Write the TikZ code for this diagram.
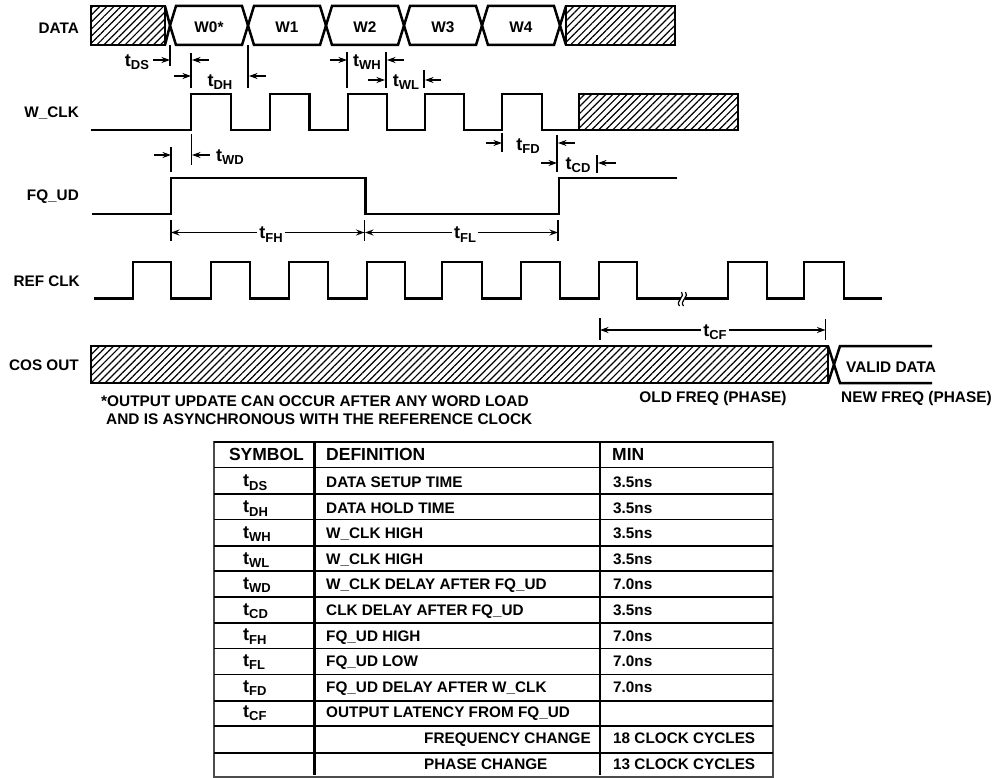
\documentclass[tikz,border=0pt]{standalone}
\usepackage{fontspec}
\setmainfont{Liberation Sans}[BoldFont={Liberation Sans Bold}]
\usetikzlibrary{arrows.meta,patterns.meta}
\newcommand{\tname}[1]{t\raisebox{-3.5pt}{\fontsize{13}{13}\selectfont #1}}
\tikzset{
  wave/.style={line width=2.5pt,line join=miter},
  hatch/.style={wave,pattern={Lines[angle=45,distance=5pt,line width=1.2pt]}},
  tick/.style={line width=1.2pt},
  dim/.style={line width=1.2pt,->},
  rule/.style={line width=1.4pt},
  capline/.style={text height=11pt,text depth=0pt,inner sep=0pt},
  sig/.style={capline,font=\fontsize{15.3}{15.3}\selectfont\bfseries,anchor=east},
  txt/.style={capline,font=\fontsize{15.4}{17}\selectfont\bfseries},
  tim/.style={font=\fontsize{18}{18}\selectfont\bfseries,inner sep=2pt},
  cell/.style={capline,font=\fontsize{15.3}{15.3}\selectfont\bfseries,anchor=west},
  head/.style={capline,font=\fontsize{17.5}{17.5}\selectfont\bfseries}
}
\begin{document}
\begin{tikzpicture}[x=1pt,y=-1pt,>={Stealth[length=8.5pt,width=6pt]}]
\useasboundingbox (0,0) rectangle (995,778);
% signal names
\node[sig] (data) at (79,28.3) {DATA};
\node[sig] (wclk) at (79,112.3) {W\_CLK};
\node[sig] (fqud) at (79,195) {FQ\_UD};
\node[sig] (refclk) at (80,281) {REF CLK};
\node[sig] (cosout) at (79,365) {COS OUT};
% DATA
\draw[hatch] (91,6) rectangle (165,45);
\draw[hatch] (566,6) rectangle (675,45);
\draw[wave] (165,6) -- (170,25.5) -- (165,45);
\draw[wave] (566,6) -- (560,25.5) -- (566,45);
\foreach \a/\n/\t in {170/0/W0*,248/1/W1,326/2/W2,404/3/W3,482/4/W4} {
  \draw[wave] (\a,25.5) -- (\a+6,6) -- (\a+72,6) -- (\a+78,25.5) -- (\a+72,45) -- (\a+6,45) -- cycle;
  \node[txt] (w\n) at (\a+39,26.7) {\t};
}
% W_CLK
\draw[wave] (91,130) -| (191,94) -| (231,130) -| (270,94) -| (309.5,130) -| (348,94) -| (387,130)
  -| (425,94) -| (464,130) -| (502,94) -| (542,130) -- (579,130);
\draw[hatch] (579,94) rectangle (738,130);
% FQ_UD
\draw[wave] (92,214) -| (171,178) -| (365.5,214) -| (559,178) -- (677,178);
% REF CLK
\draw[wave] (94,298.5) -| (133,262) -| (171,298.5) -| (211,262) -| (250,298.5) -| (289,262) -| (328,298.5)
  -| (367,262) -| (405,298.5) -| (442,262) -| (482,298.5) -| (521,262) -| (560,298.5) -| (599,262)
  -| (637,298.5) -| (728,262) -| (767,298.5) -| (804,262) -| (844,298.5) -- (882,298.5);
\fill[white] (680.5,295) rectangle (684.5,302);
\draw[tick] (681.5,292) .. controls (686,296) and (675,301) .. (679.5,306);
\draw[tick] (685.5,292) .. controls (690,296) and (679,301) .. (683.5,306);
% COS OUT
\draw[hatch] (91,346) rectangle (828,383);
\draw[wave] (828,346) -- (834,364.5) -- (828,383);
\draw[wave] (932,346) -- (840,346) -- (834,364.5) -- (840,383) -- (932,383);
\node[txt,anchor=west] (valid) at (846,366.7) {VALID DATA};
\node[txt] (oldf) at (713,396.7) {OLD FREQ (PHASE)};
\node[txt] (newf) at (916.5,396.7) {NEW FREQ (PHASE)};
\node[txt,anchor=west] (note1) at (101,401) {*OUTPUT UPDATE CAN OCCUR AFTER ANY WORD LOAD};
\node[txt,anchor=west] (note2) at (106,419) {AND IS ASYNCHRONOUS WITH THE REFERENCE CLOCK};
% short timing marks
\foreach \x/\ya/\yb in {170/45/66,191/53/88,248/45/88,347/52/88,386/52/88,424/70/88,171/147/172,191.5/134/165,
  502/133/152,557/135/172,597/155/173,171/220/241,364.5/220/241,558/220/241,600/318/340,825.5/319/340}
  \draw[tick] (\x,\ya) -- (\x,\yb);
\foreach \xa/\xb/\y in {153/170/60,209/192/60,174/191/76,266/249/76,330/347/60,404/387/60,368/385/80,441/425/80,
  154/171/155,210/192/155,486/502/143,575/558/143,541/557/163,616/598/163}
  \draw[dim] (\xa,\y) -- (\xb,\y);
\node[tim] (tDS) at (137,62) {\tname{DS}};
\node[tim] (tDH) at (220,82) {\tname{DH}};
\node[tim] (tWH) at (367,62) {\tname{WH}};
\node[tim] (tWL) at (406,82) {\tname{WL}};
\node[tim] (tWD) at (230,157) {\tname{WD}};
\node[tim] (tFD) at (528,146) {\tname{FD}};
\node[tim] (tCD) at (578,165) {\tname{CD}};
% long timing marks
\coordinate (fhA) at (171,232.5);
\coordinate (fhB) at (364.5,232.5);
\coordinate (flA) at (365,232.5);
\coordinate (flB) at (558,232.5);
\coordinate (cfA) at (600,330);
\coordinate (cfB) at (825.5,330);
\node[tim] (tFH) at (271,234.5) {\tname{FH}};
\node[tim] (tFL) at (465,234.5) {\tname{FL}};
\node[tim] (tCF) at (715,332) {\tname{CF}};
\draw[dim] (tFH.west |- fhA) -- (fhA);
\draw[dim] (tFH.east |- fhB) -- (fhB);
\draw[dim] (tFL.west |- flA) -- (flA);
\draw[dim] (tFL.east |- flB) -- (flB);
\draw[dim] (tCF.west |- cfA) -- (cfA);
\draw[dim] (tCF.east |- cfB) -- (cfB);
% table
\draw[rule,black!70] (214,442) rectangle (773,777);
\foreach \y in {442,467.5,494,519.5,546,571,597,623,648.5,674.5,701,726,753}
  \draw[rule] (214,\y) -- (773,\y);
\draw[wave] (314.5,442) -- (314.5,775);
\draw[wave] (600,442) -- (600,775);
\node[head] (symb) at (266.5,455) {SYMBOL};
\node[head,anchor=west] (defn) at (326,455) {DEFINITION};
\node[head,anchor=west] (minv) at (612,455) {MIN};
\foreach \y/\s/\d/\m in {481.5/DS/DATA SETUP TIME/3.5ns,507.5/DH/DATA HOLD TIME/3.5ns,533/WH/W\_CLK HIGH/3.5ns,
  559/WL/W\_CLK HIGH/3.5ns,584/WD/W\_CLK DELAY AFTER FQ\_UD/7.0ns,610/CD/CLK DELAY AFTER FQ\_UD/3.5ns,
  635.5/FH/FQ\_UD HIGH/7.0ns,661/FL/FQ\_UD LOW/7.0ns,687/FD/FQ\_UD DELAY AFTER W\_CLK/7.0ns,712/CF/OUTPUT LATENCY FROM FQ\_UD/} {
  \node[tim,anchor=west,inner sep=0pt] (s\s) at (243,\y+1) {\tname{\s}};
  \node[cell] (d\s) at (326,\y) {\d};
  \node[cell] (m\s) at (613,\y) {\m};
}
\node[cell] (dfreq) at (424,738) {FREQUENCY CHANGE};
\node[cell] (mfreq) at (613,738) {18 CLOCK CYCLES};
\node[cell] (dphase) at (424,763.5) {PHASE CHANGE};
\node[cell] (mphase) at (613,763.5) {13 CLOCK CYCLES};
\end{tikzpicture}
\end{document}
